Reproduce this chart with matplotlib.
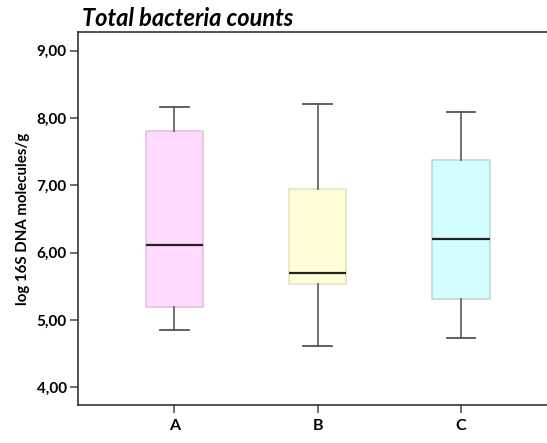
import matplotlib.pyplot as plt

# Box statistics per group (log 16S DNA molecules/g)
groups = ['A', 'B', 'C']
whisker_low = [4.86, 4.61, 4.73]
q1 = [5.19, 5.54, 5.31]
median = [6.11, 5.70, 6.21]
q3 = [7.81, 6.94, 7.38]
whisker_high = [8.17, 8.21, 8.09]
y_ticks = [4, 5, 6, 7, 8, 9]

face_colors = ['#FFD9FF', '#FFFDD6', '#D4FDFD']
edge_colors = ['#E2C2E2', '#E6E4C2', '#BCDADA']

plt.rcParams['font.family'] = ['Lato', 'DejaVu Sans']

fig = plt.figure(figsize=(5.47, 4.43), dpi=100)
ax = fig.add_axes([0.1426, 0.0847, 0.8574, 0.8431])

stats = []
for i, g in enumerate(groups):
    stats.append({'label': g, 'whislo': whisker_low[i], 'q1': q1[i], 'med': median[i],
                  'q3': q3[i], 'whishi': whisker_high[i], 'fliers': []})

positions = list(range(1, len(groups) + 1))
bp = ax.bxp(stats, positions=positions, widths=0.4, patch_artist=True, showfliers=False,
            whiskerprops=dict(color='#666666', linewidth=1.3),
            capprops=dict(color='#555555', linewidth=1.3),
            medianprops=dict(color='#222222', linewidth=1.6),
            capwidths=0.2)
for patch, fc, ec in zip(bp['boxes'], face_colors, edge_colors):
    patch.set_facecolor(fc)
    patch.set_edgecolor(ec)
    patch.set_linewidth(1.2)

ax.set_xlim(0.328, 3.60)
ax.set_ylim(3.733, 9.277)
ax.set_yticks(y_ticks)
ax.set_yticklabels([f'{v:.2f}'.replace('.', ',') for v in y_ticks],
                   fontsize=11, fontweight='bold')
ax.set_xticks(positions)
ax.set_xticklabels(groups, fontsize=11.5, fontweight='bold')
ax.tick_params(axis='both', direction='out', length=6, width=1.2, color='#555555')
ax.tick_params(axis='x', pad=4)
ax.tick_params(axis='y', pad=2)

for side in ['left', 'top', 'bottom']:
    ax.spines[side].set_color('#333333')
    ax.spines[side].set_linewidth(1.2)
ax.spines['right'].set_visible(False)

ax.set_ylabel('log 16S DNA molecules/g', fontsize=10.8, fontweight='bold', labelpad=5)
fig.text(0.150, 0.958, 'Total bacteria counts', fontsize=17, fontweight='bold',
         fontstyle='italic', ha='left', va='center')

fig.savefig('out.png', dpi=100)
